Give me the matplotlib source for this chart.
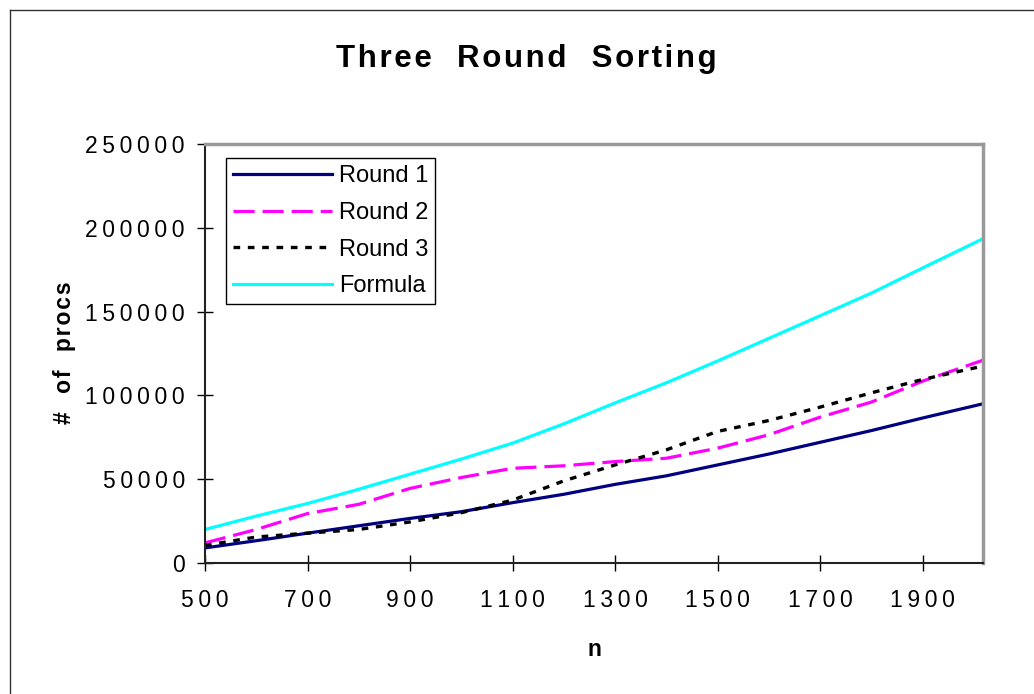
import matplotlib
matplotlib.use('Agg')
import matplotlib.pyplot as plt
from matplotlib.lines import Line2D
from matplotlib.ticker import FuncFormatter

# data
n = [500, 600, 700, 800, 900, 1000, 1100, 1200, 1300, 1400, 1500, 1600, 1700, 1800, 1900, 2018]
round1 = [9000, 13300, 17800, 22200, 26600, 30600, 36000, 41000, 46900, 52000,
          58500, 65000, 72000, 79000, 86500, 95000]
round2 = [12000, 20000, 29500, 35000, 44500, 51000, 56500, 58000, 60500, 62500,
          68500, 76500, 87000, 96000, 108500, 121000]
round3 = [10500, 15500, 17800, 20000, 24500, 30000, 37500, 49000, 58500, 67500,
          78500, 85000, 93000, 101500, 109500, 117500]
formula = [20000, 28000, 35500, 44000, 53000, 62000, 71500, 83000, 95500, 107500,
           120500, 134000, 147500, 161000, 176000, 193500]

x_ticks = [500, 700, 900, 1100, 1300, 1500, 1700, 1900]
y_ticks = [0, 50000, 100000, 150000, 200000, 250000]

plt.rcParams['font.family'] = ['Liberation Sans', 'DejaVu Sans']

W, H = 1034, 694


def spaced(s, sep='\u2009'):
    # wide letter spacing like the original export
    return sep.join(s)


fig = plt.figure(figsize=(W / 100, H / 100), dpi=100)
ax = fig.add_axes([205 / W, 1 - 563 / H, (983 - 205) / W, (563 - 144) / H])

ax.plot(n, round1, color='#000080', lw=2.3, label='Round 1')
ax.plot(n, round2, color='#ff00ff', lw=2.3, dashes=[6.6, 2.5], label='Round 2')
ax.plot(n, round3, color='black', lw=2.4, dashes=[2.0, 2.3], label='Round 3')
ax.plot(n, formula, color='#00ffff', lw=2.3, label='Formula')

ax.set_xlim(500, 2018)
ax.set_ylim(0, 250000)
ax.set_xticks(x_ticks)
ax.set_yticks(y_ticks)
ax.xaxis.set_major_formatter(FuncFormatter(lambda v, p: spaced('%d' % v)))
ax.yaxis.set_major_formatter(FuncFormatter(lambda v, p: spaced('%d' % v)))
ax.tick_params(axis='both', direction='inout', length=11, width=1, labelsize=16.5)
ax.tick_params(axis='x', pad=13)
ax.tick_params(axis='y', pad=9)

for s in ['top', 'right']:
    ax.spines[s].set_color('#999999')
    ax.spines[s].set_linewidth(2.5)
for s in ['left', 'bottom']:
    ax.spines[s].set_color('#222222')
    ax.spines[s].set_linewidth(1.5)

leg = ax.legend(loc='upper left', bbox_to_anchor=(0.0266, 0.966), borderaxespad=0,
                fontsize=17, handlelength=4.2, handletextpad=0.3,
                labelspacing=0.62, borderpad=0.3, fancybox=False, framealpha=1)
leg.get_frame().set_edgecolor('black')
leg.get_frame().set_linewidth(1)

fig.text(526 / W, 1 - 59 / H, spaced('Three  Round  Sorting', '\u200a'), fontsize=22.5,
         fontweight='bold', ha='center', va='center')
fig.text(594 / W, 1 - 650 / H, 'n', fontsize=16.5, fontweight='bold',
         ha='center', va='center')
fig.text(65 / W, 1 - 353 / H, spaced('#  of  procs', '\u200a'), fontsize=16.5,
         fontweight='bold', ha='center', va='center', rotation=90)

# chart area border (top and left edges visible)
fig.add_artist(Line2D([10 / W, 1], [1 - 10 / H, 1 - 10 / H], color='#333333', lw=1))
fig.add_artist(Line2D([10 / W, 10 / W], [0, 1 - 10 / H], color='#333333', lw=1))

fig.savefig('out.png', dpi=100)
